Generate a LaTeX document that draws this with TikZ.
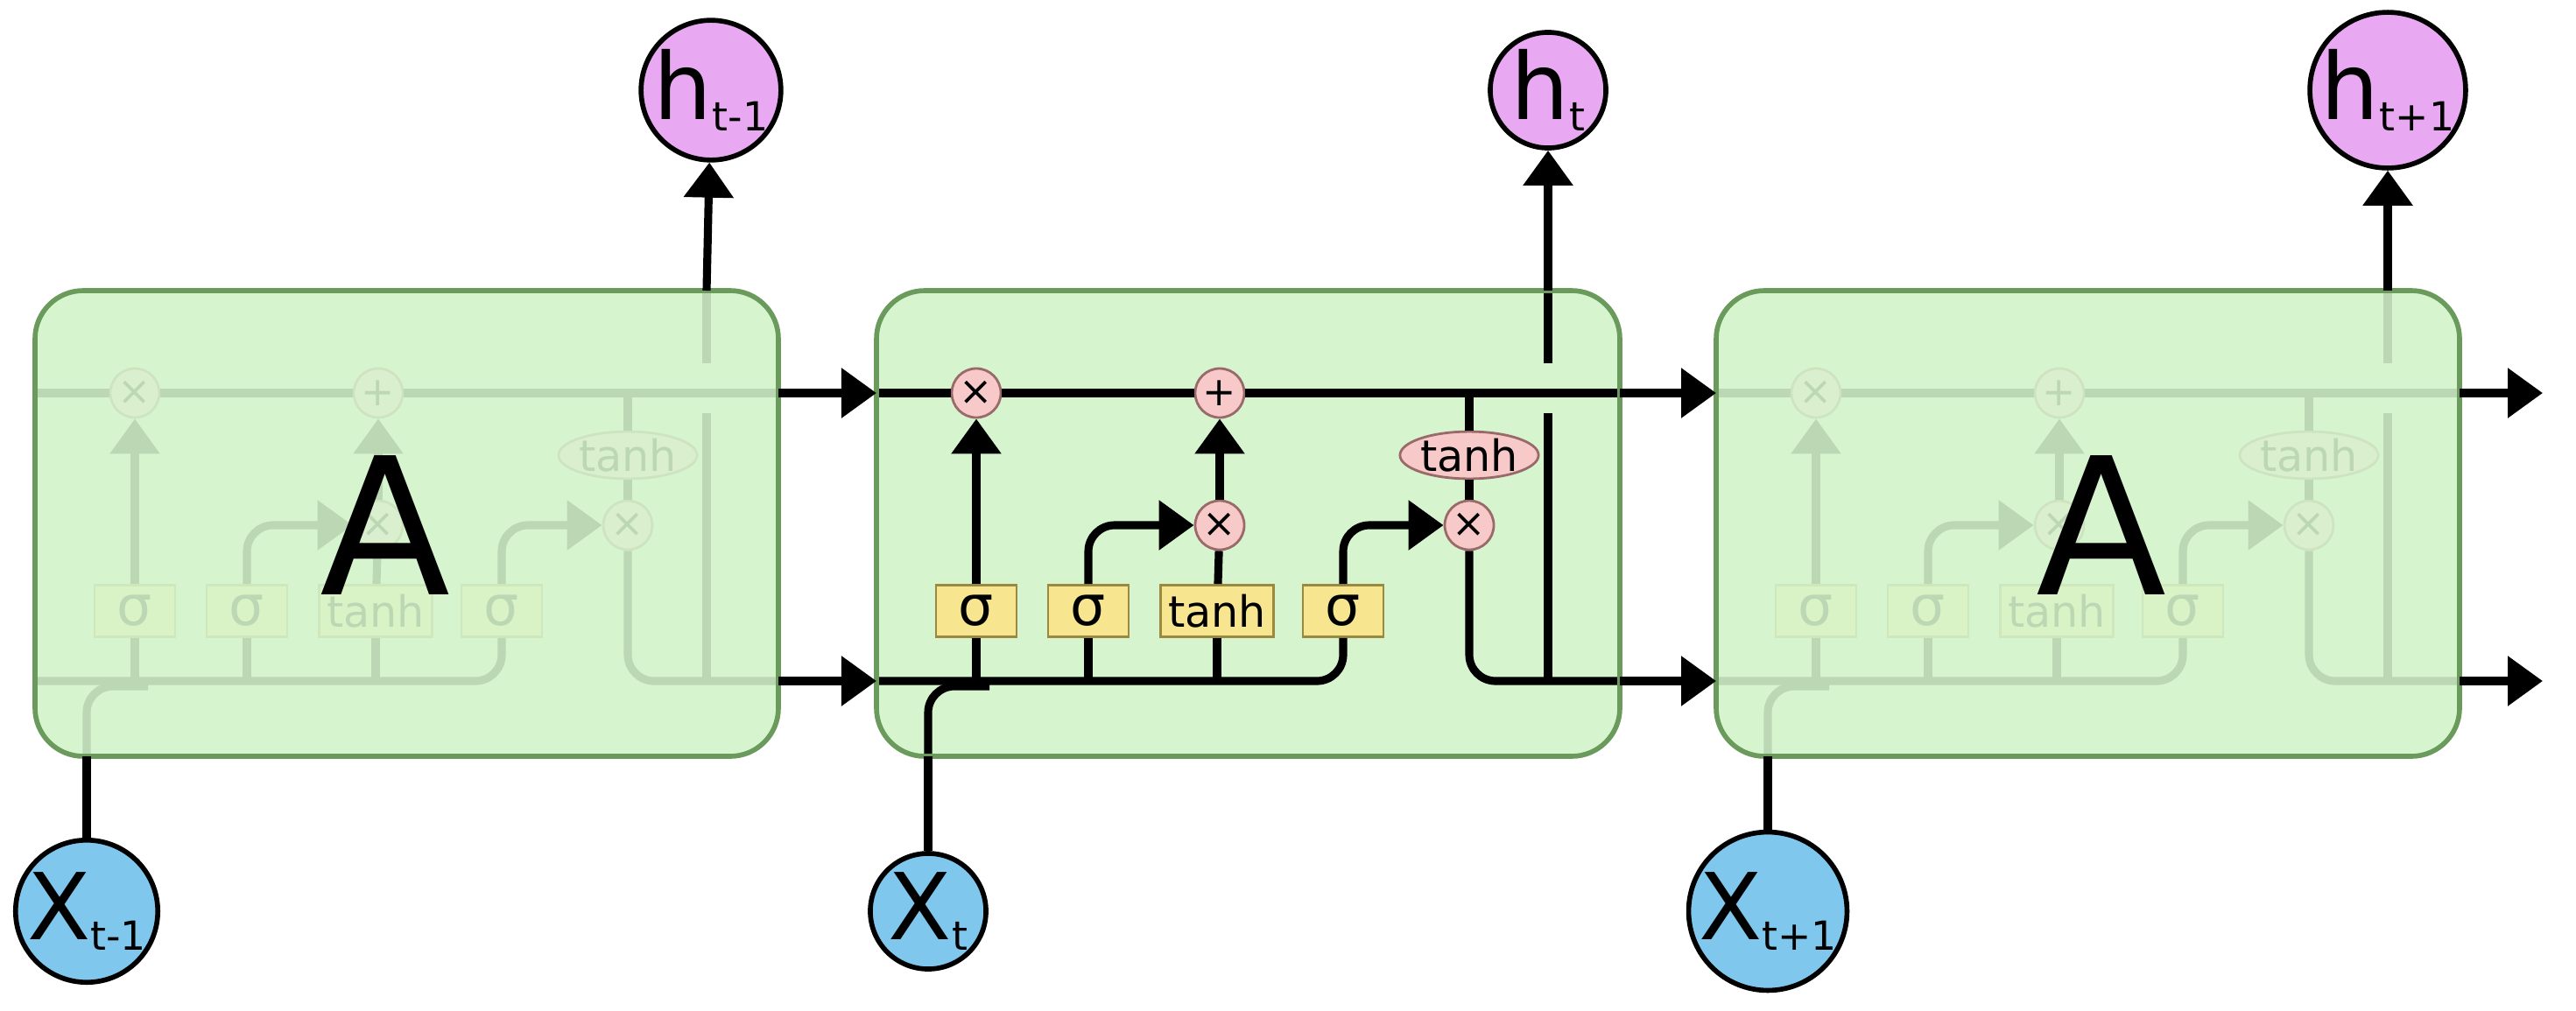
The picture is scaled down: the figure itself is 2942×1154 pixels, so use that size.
\documentclass[tikz,border=0pt]{standalone}
\usepackage{fontspec}
\setmainfont{DejaVu Sans}
\usetikzlibrary{arrows.meta,shapes.geometric}
\definecolor{cellg}{HTML}{D6F5CE}
\definecolor{cellb}{HTML}{6A9A5C}
\definecolor{pinkf}{HTML}{F7C9C9}
\definecolor{pinkb}{HTML}{9A6A6A}
\definecolor{yelf}{HTML}{F8E58F}
\definecolor{yelb}{HTML}{9A8A40}
\definecolor{bluef}{HTML}{7FC7EC}
\definecolor{purf}{HTML}{E9A9F2}
\newcommand{\lbl}[2]{#1\raisebox{-0.12em}{\fontsize{13}{13}\selectfont #2}}
\begin{document}
\begin{tikzpicture}[x=0.01cm,y=-0.01cm,
  ln/.style={line width=2.6pt,black},
  arr/.style={ln,-{Triangle[length=0.4cm,width=0.55cm]}},
  op/.style={circle,draw=pinkb,fill=pinkf,line width=0.8pt,minimum size=0.56cm,inner sep=0pt,font=\fontsize{13}{13}\selectfont},
  gate/.style={rectangle,draw=yelb,fill=yelf,line width=0.8pt,minimum height=0.59cm,minimum width=0.92cm,inner sep=0pt,font=\fontsize{18}{18}\selectfont},
  io/.style={circle,draw=black,line width=1.6pt,minimum size=1.32cm,inner sep=0pt,font=\fontsize{30}{30}\selectfont},
  box/.style={rounded corners=0.55cm,line width=1.6pt},
  pics/lstm/.style={code={
    \node[gate] (-g1) at (1115,698) {σ};
    \node[gate] (-g2) at (1243,698) {σ};
    \node[gate,minimum width=1.29cm,font=\fontsize{14}{14}\selectfont] (-g3) at (1390,698) {tanh};
    \node[gate] (-g4) at (1534,698) {σ};
    \node[op] (-fx) at (1115,449) {×};
    \node[op] (-add) at (1393,449) {+};
    \node[op] (-ix) at (1393,600) {×};
    \node[op] (-ox) at (1678,600) {×};
    \node[ellipse,draw=pinkb,fill=pinkf,line width=0.8pt,minimum width=1.35cm,minimum height=0.5cm,inner sep=0pt,font=\fontsize{14}{14}\selectfont] (-th) at (1678,520) {tanh};
    \coordinate (-cl) at (1001,449); \coordinate (-cr) at (1850,449);
    \coordinate (-hl) at (1001,778); \coordinate (-hr) at (1850,778);
    \coordinate (-xin) at (1060,864); \coordinate (-hout) at (1768,332);
    \draw[ln] (-cl) -- (-fx) -- (-add) -- (-cr);
    \draw[ln,rounded corners=0.3cm] (-hl) -- (1534,778) -- (-g4.south);
    \draw[ln,rounded corners=0.3cm] (-xin) -- (1060,784) -- (1130,784);
    \foreach \g in {-g1,-g2,-g3} \draw[ln] (\g.south) -- (\g.south |- 0,778);
    \draw[arr] (-g1) -- (-fx);
    \draw[arr,rounded corners=0.3cm] (-g2.north) -- (1243,600) -- (-ix.west);
    \draw[ln] (-g3) -- (-ix);
    \draw[arr] (-ix) -- (-add);
    \draw[arr,rounded corners=0.3cm] (-g4.north) -- (1534,600) -- (-ox.west);
    \draw[ln] (1678,449) -- (-th);
    \draw[ln] (-th) -- (-ox);
    \draw[ln,rounded corners=0.3cm] (-ox) -- (1678,778) -- (-hr);
    \draw[ln] (1768,778) -- (1768,472);
    \draw[ln] (1768,415) -- (-hout);
  }}]
\useasboundingbox (0,0) rectangle (2942,1154);
\foreach \n/\dx in {L/-961,M/0,R/959}{
  \begin{scope}[xshift=\dx*0.01cm]
  \fill[box,cellg] (1001,332) rectangle (1850,864);
  \pic (\n) at (0,0) {lstm};
  \end{scope}
}
\fill[box,cellg,opacity=0.88] (40,332) rectangle (889,864);
\fill[box,cellg,opacity=0.88] (1960,332) rectangle (2809,864);
\draw[box,cellb] (40,332) rectangle (889,864);
\draw[box,cellb] (1001,332) rectangle (1850,864);
\draw[box,cellb] (1960,332) rectangle (2809,864);
\node[font=\fontsize{62}{62}\selectfont] (AL) at (440,600) {A};
\node[font=\fontsize{62}{62}\selectfont] (AR) at (2400,600) {A};
% outer nodes
\node[io,fill=purf] (h1) at (812,103) {\lbl{h}{t-1}};
\node[io,fill=purf] (h2) at (1768,103) {\lbl{h}{t}};
\node[io,fill=purf] (h3) at (2727,103) {\lbl{h}{t+1}};
\node[io,fill=bluef] (x1) at (99,1041) {\lbl{X}{t-1}};
\node[io,fill=bluef] (x2) at (1060,1041) {\lbl{X}{t}};
\node[io,fill=bluef] (x3) at (2019,1041) {\lbl{X}{t+1}};
\draw[arr] (L-hout) -- (h1);
\draw[arr] (M-hout) -- (h2);
\draw[arr] (R-hout) -- (h3);
\draw[ln] (x1) -- (L-xin);
\draw[ln] (x2) -- (M-xin);
\draw[ln] (x3) -- (R-xin);
\draw[arr] (L-cr) -- (M-cl);
\draw[arr] (L-hr) -- (M-hl);
\draw[arr] (M-cr) -- (R-cl);
\draw[arr] (M-hr) -- (R-hl);
\coordinate (e1) at (2904,449); \coordinate (e2) at (2904,778);
\draw[arr] (R-cr) -- (e1);
\draw[arr] (R-hr) -- (e2);
\end{tikzpicture}
\end{document}
